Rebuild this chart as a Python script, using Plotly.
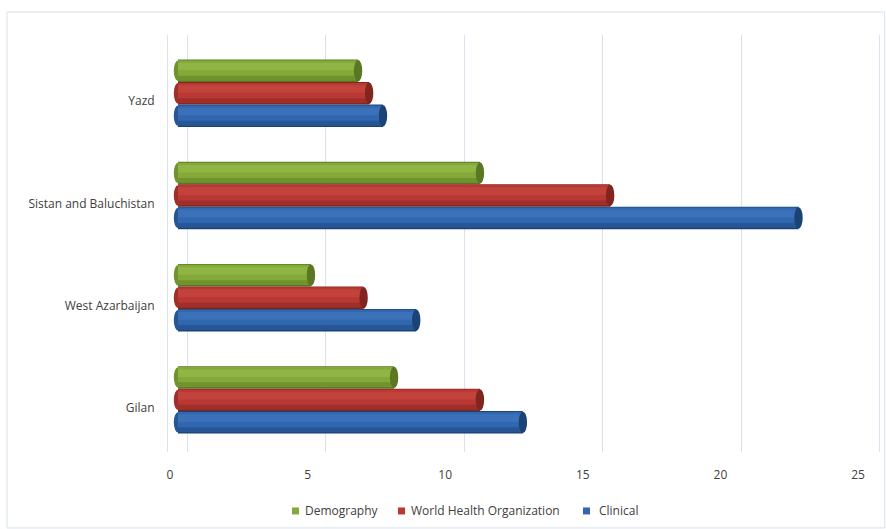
import plotly.graph_objects as go

categories = ["Gilan", "West Azarbaijan", "Sistan and Baluchistan", "Yazd"]
demography = [7.8, 4.8, 10.9, 6.5]
who = [10.9, 6.7, 15.6, 6.9]
clinical = [12.45, 8.6, 22.4, 7.4]
x_ticks = [0, 5, 10, 15, 20, 25]
legend_names = ["Demography", "World Health Organization", "Clinical"]

series = [
    # name, values, (dark, middark, main, light), offset
    ("Demography", demography, ("#5a7824", "#71932e", "#84a939", "#90b545"), 0.11),
    ("World Health Organization", who, ("#82241f", "#a02f2a", "#b93833", "#c2423c"), -0.11),
    ("Clinical", clinical, ("#1c4375", "#275696", "#3167ae", "#3a71b9"), -0.33),
]
BW = 0.22
PX = 27.7              # pixels per x unit (bars / back grid)
ZERO_PX = 178          # pixel of x=0 for bars
LEFT_PX, RIGHT_PX = 168, 884
W = RIGHT_PX - LEFT_PX
H = 417.4

fig = go.Figure()
shapes = []
cap_hw = 4.2 / PX
layers = [(0.0, 1.0, 0), (0.06, 0.90, 1), (0.28, 0.68, 2), (0.52, 0.34, 3)]
for name, vals, cols, off in series:
    dark, middark, main, light = cols
    for k, (start, frac, ci) in enumerate(layers):
        fig.add_trace(go.Bar(
            y=categories, x=vals, orientation="h", name=name,
            offset=off + BW * start, width=BW * frac,
            marker=dict(color=cols[ci], line=dict(width=0)),
            showlegend=False, hoverinfo="skip" if k != 2 else None))
    for i, v in enumerate(vals):
        shapes.append(dict(type="circle", xref="x", yref="y",
                           x0=-cap_hw, x1=cap_hw, y0=i + off + 0.01, y1=i + off + BW - 0.01,
                           fillcolor=middark, line=dict(width=0), layer="below"))
        shapes.append(dict(type="circle", xref="x", yref="y",
                           x0=v - cap_hw, x1=v + cap_hw, y0=i + off + 0.005, y1=i + off + BW - 0.005,
                           fillcolor=dark, line=dict(width=0), layer="above"))

# invisible traces carrying the back-wall grid axis and the front label axis
for ax in ("x2", "x3"):
    fig.add_trace(go.Scatter(x=[0], y=[categories[0]], xaxis=ax, yaxis="y",
                             mode="markers", marker=dict(opacity=0), showlegend=False,
                             hoverinfo="skip"))

# chart-area border
shapes.append(dict(type="rect", xref="paper", yref="paper",
                   x0=-161 / W, x1=1.001, y0=-76 / H, y1=(H + 23) / H,
                   line=dict(color="#d6e0ec", width=1), fillcolor="rgba(0,0,0,0)", layer="below"))

font = "Open Sans, Liberation Sans, sans-serif"
xr = [(LEFT_PX - ZERO_PX) / PX, (RIGHT_PX - ZERO_PX) / PX]
g0 = 187
xr2 = [(LEFT_PX - g0) / PX, (RIGHT_PX - g0) / PX]
lpx = 137.6 / 5
l0 = 170
xr3 = [(LEFT_PX - l0) / lpx, (RIGHT_PX - l0) / lpx]

# legend drawn as squares + text entries
colors_leg = [series[0][2][2], series[1][2][2], series[2][2][2]]
sq_x = [292, 398, 583]
tx_x = [303, 409, 597]
leg_y = -(511 - 452) / H
annotations = []
for nm, c, sx, tx in zip(legend_names, colors_leg, sq_x, tx_x):
    shapes.append(dict(type="rect", xref="paper", yref="paper",
                       x0=(sx - LEFT_PX) / W, x1=(sx + 7 - LEFT_PX) / W,
                       y0=leg_y - 3.5 / H, y1=leg_y + 3.5 / H,
                       fillcolor=c, line=dict(width=0)))
    annotations.append(dict(
        xref="paper", yref="paper", x=(tx - LEFT_PX) / W, y=leg_y,
        xanchor="left", yanchor="middle", showarrow=False, text=nm,
        font=dict(family=font, size=12, color="#404040")))

fig.update_layout(
    width=886, height=529,
    margin=dict(l=LEFT_PX, r=886 - RIGHT_PX, t=35, b=77),
    paper_bgcolor="white", plot_bgcolor="white",
    barmode="overlay", showlegend=False,
    font=dict(family=font, size=12, color="#404040"),
    shapes=shapes, annotations=annotations,
    xaxis=dict(range=xr, showgrid=False, zeroline=False, showticklabels=False, ticks=""),
    xaxis2=dict(range=xr2, overlaying="x", side="bottom",
                tickvals=x_ticks, showgrid=True, gridcolor="#d9e3f0", gridwidth=1,
                zeroline=False, showticklabels=False, ticks=""),
    xaxis3=dict(range=xr3, overlaying="x", side="bottom", tickvals=x_ticks,
                showgrid=False, zeroline=False, ticks="", ticklabelstandoff=14,
                tickfont=dict(size=12, color="#404040")),
    yaxis=dict(type="category", categoryorder="array", categoryarray=categories,
               range=[-0.51, 3.57], showgrid=False, zeroline=False,
               showline=True, linecolor="#d9e3f0", linewidth=1,
               ticks="", ticklabelshift=8, ticklabelstandoff=10,
               tickfont=dict(size=12, color="#404040")),
)

fig.write_html("out.html")
